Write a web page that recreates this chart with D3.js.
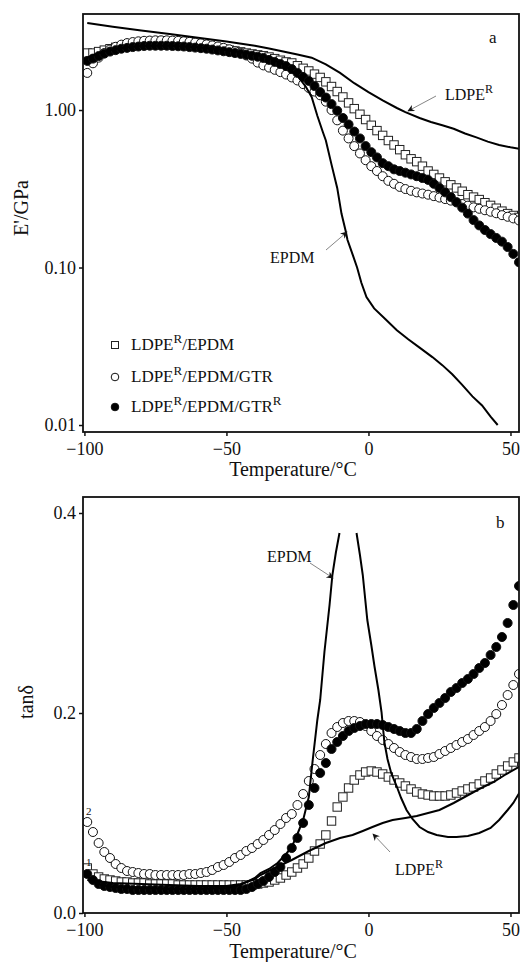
<!DOCTYPE html>
<html>
<head>
<meta charset="utf-8">
<script src="https://cdnjs.cloudflare.com/ajax/libs/d3/7.8.5/d3.min.js"></script>
<style>
  body { margin: 0; background: #fff; }
  text { font-family: "Liberation Serif", "Times New Roman", serif; fill: #111; }
</style>
</head>
<body>
<div id="chart"></div>
<script>
// temperature of every marker (°C), shared by the six marker series
const temps = [-99, -97, -95, -93, -91, -89, -87, -85, -83, -81,
  -79, -77, -75, -73, -71, -69, -67, -65, -63, -61,
  -59, -57, -55, -53, -51, -49, -47, -45, -43, -41,
  -39, -37, -35, -33, -31, -29, -27, -25, -23, -21,
  -19, -17, -15, -13, -11, -9, -7, -5, -3, -1,
  1, 3, 5, 7, 9, 11, 13, 15, 17, 19,
  21, 23, 25, 27, 29, 31, 33, 35, 37, 39,
  41, 43, 45, 47, 49, 51, 53];

// panel a : E' (GPa)
const modSq = [2.30, 2.30, 2.35, 2.40, 2.45, 2.50, 2.53, 2.56, 2.58, 2.60,
  2.61, 2.62, 2.62, 2.62, 2.62, 2.61, 2.60, 2.59, 2.58, 2.56,
  2.54, 2.52, 2.49, 2.46, 2.43, 2.40, 2.37, 2.34, 2.30, 2.27,
  2.24, 2.21, 2.17, 2.12, 2.07, 2.02, 1.99, 1.91, 1.84, 1.77,
  1.69, 1.61, 1.51, 1.41, 1.31, 1.21, 1.11, 1.02, 0.94, 0.87,
  0.80, 0.74, 0.69, 0.64, 0.60, 0.56, 0.52, 0.49, 0.47, 0.44,
  0.41, 0.39, 0.37, 0.35, 0.335, 0.32, 0.305, 0.29, 0.28, 0.27,
  0.258, 0.248, 0.238, 0.228, 0.22, 0.214, 0.208];
const modCi = [1.72, 1.98, 2.15, 2.30, 2.42, 2.52, 2.60, 2.66, 2.70, 2.73,
  2.75, 2.76, 2.77, 2.77, 2.77, 2.76, 2.75, 2.73, 2.71, 2.68,
  2.65, 2.61, 2.57, 2.53, 2.48, 2.43, 2.36, 2.30, 2.22, 2.12,
  2.00, 1.92, 1.86, 1.80, 1.74, 1.68, 1.61, 1.54, 1.46, 1.38,
  1.31, 1.24, 1.13, 1.00, 0.86, 0.74, 0.66, 0.59, 0.53, 0.48,
  0.44, 0.41, 0.38, 0.355, 0.34, 0.325, 0.315, 0.307, 0.30, 0.295,
  0.29, 0.284, 0.278, 0.272, 0.266, 0.259, 0.253, 0.247, 0.241, 0.236,
  0.231, 0.226, 0.221, 0.215, 0.21, 0.205, 0.199];
const modFi = [2.05, 2.12, 2.20, 2.28, 2.35, 2.40, 2.45, 2.48, 2.51, 2.53,
  2.55, 2.56, 2.56, 2.56, 2.56, 2.55, 2.54, 2.53, 2.51, 2.49,
  2.47, 2.45, 2.42, 2.39, 2.36, 2.33, 2.30, 2.27, 2.24, 2.21,
  2.18, 2.14, 2.08, 2.02, 1.96, 1.90, 1.82, 1.72, 1.62, 1.53,
  1.42, 1.30, 1.20, 1.09, 0.99, 0.89, 0.81, 0.73, 0.66, 0.59,
  0.54, 0.50, 0.46, 0.44, 0.42, 0.41, 0.40, 0.39, 0.38, 0.37,
  0.36, 0.34, 0.32, 0.30, 0.28, 0.26, 0.24, 0.22, 0.20, 0.185,
  0.173, 0.163, 0.154, 0.146, 0.135, 0.122, 0.108];
const ldpeModT = [-99, -90, -80, -70, -60, -50, -40, -35, -30, -25, -20, -15, -10, -5,
  0, 5, 10, 13, 18, 22, 26, 30, 34, 38, 42, 46, 50, 53.5];
const ldpeModV = [3.57, 3.38, 3.20, 3.04, 2.88, 2.72, 2.56, 2.46, 2.35, 2.25, 2.15, 1.95, 1.72, 1.48,
  1.30, 1.15, 1.03, 0.97, 0.89, 0.84, 0.80, 0.76, 0.71, 0.67, 0.63, 0.60, 0.58, 0.565];
const epdmModT = [-99, -95, -90, -85, -80, -75, -70, -60, -50, -40, -35, -30, -25, -22, -20,
  -18, -16, -15, -13, -11, -9.5, -8, -7.4, -5.5, -4, -2.5, -0.7, 2, 6, 10,
  14, 18, 22.5, 26, 29.5, 33, 36.6, 40, 43, 45.5];
const epdmModV = [2.15, 2.30, 2.42, 2.50, 2.55, 2.56, 2.56, 2.50, 2.40, 2.25, 2.15, 1.95, 1.65, 1.40, 1.21,
  0.92, 0.72, 0.64, 0.45, 0.32, 0.22, 0.17, 0.15, 0.12, 0.10, 0.08, 0.065, 0.055, 0.047, 0.040,
  0.035, 0.031, 0.027, 0.024, 0.021, 0.018, 0.0152, 0.0133, 0.0113, 0.0100];

// panel b : tan delta
const tanSq = [0.045, 0.039, 0.036, 0.034, 0.033, 0.032, 0.031, 0.031, 0.030, 0.030,
  0.030, 0.029, 0.029, 0.029, 0.029, 0.029, 0.028, 0.028, 0.028, 0.028,
  0.028, 0.028, 0.028, 0.028, 0.028, 0.028, 0.028, 0.028, 0.028, 0.028,
  0.029, 0.030, 0.031, 0.033, 0.035, 0.038, 0.041, 0.045, 0.049, 0.055,
  0.062, 0.069, 0.078, 0.092, 0.106, 0.116, 0.125, 0.133, 0.138, 0.141,
  0.142, 0.141, 0.139, 0.136, 0.133, 0.130, 0.127, 0.124, 0.121, 0.119,
  0.118, 0.117, 0.117, 0.117, 0.118, 0.120, 0.122, 0.124, 0.126, 0.129,
  0.132, 0.135, 0.139, 0.143, 0.147, 0.151, 0.155];
const tanCi = [0.091, 0.081, 0.070, 0.061, 0.055, 0.049, 0.045, 0.042, 0.041, 0.040,
  0.039, 0.039, 0.038, 0.038, 0.038, 0.038, 0.038, 0.038, 0.039, 0.039,
  0.040, 0.041, 0.043, 0.046, 0.048, 0.051, 0.055, 0.058, 0.062, 0.065,
  0.069, 0.073, 0.078, 0.083, 0.089, 0.095, 0.099, 0.108, 0.119, 0.132,
  0.144, 0.158, 0.169, 0.180, 0.186, 0.190, 0.192, 0.192, 0.191, 0.187,
  0.182, 0.177, 0.173, 0.169, 0.165, 0.161, 0.158, 0.156, 0.154, 0.154,
  0.155, 0.156, 0.159, 0.162, 0.165, 0.168, 0.171, 0.174, 0.178, 0.182,
  0.186, 0.192, 0.199, 0.208, 0.218, 0.228, 0.239];
const tanFi = [0.039, 0.033, 0.029, 0.027, 0.026, 0.025, 0.024, 0.024, 0.023, 0.023,
  0.023, 0.023, 0.023, 0.023, 0.023, 0.023, 0.023, 0.023, 0.023, 0.023,
  0.023, 0.023, 0.023, 0.023, 0.023, 0.023, 0.023, 0.023, 0.024, 0.026,
  0.029, 0.032, 0.036, 0.041, 0.046, 0.055, 0.065, 0.075, 0.090, 0.108,
  0.125, 0.140, 0.150, 0.164, 0.171, 0.177, 0.182, 0.185, 0.187, 0.189,
  0.189, 0.189, 0.188, 0.186, 0.184, 0.182, 0.180, 0.180, 0.184, 0.192,
  0.199, 0.205, 0.210, 0.215, 0.221, 0.225, 0.230, 0.234, 0.239, 0.245,
  0.250, 0.258, 0.266, 0.276, 0.290, 0.308, 0.327];
const ldpeTanT = [-99, -90, -80, -70, -60, -50, -45, -40, -38, -33, -27, -21, -15, -10, -5.6,
  -2, 1.4, 5, 8.5, 13, 17, 21, 25, 30, 34.5, 39, 44, 48, 53.5];
const ldpeTanV = [0.033, 0.030, 0.029, 0.028, 0.027, 0.027, 0.029, 0.034, 0.038, 0.045, 0.053, 0.062, 0.070, 0.075, 0.078,
  0.082, 0.086, 0.090, 0.093, 0.095, 0.097, 0.100, 0.103, 0.110, 0.117, 0.124, 0.131, 0.138, 0.147];
// the EPDM peak runs off the drawing, so there is a gap at the top (null)
const epdmTanT = [-99, -97, -94, -90, -80, -70, -60, -50, -45, -40,
  -38, -35, -32, -29, -27, -25, -23, -21, -19.7, -18,
  -17, -15.5, -13.7, -12.7, -11.5, -10.2, -7.2, -4.2, -3, -2,
  -0.4, 1, 2.1, 3.5, 4.6, 5.6, 6.7, 8, 9.9, 11.5,
  13.4, 15.5, 18, 21, 24, 28, 31, 35, 39, 43,
  46, 49, 51, 53.5];
const epdmTanV = [0.037, 0.031, 0.028, 0.026, 0.025, 0.024, 0.024, 0.025, 0.028, 0.035,
  0.040, 0.044, 0.050, 0.059, 0.066, 0.079, 0.093, 0.116, 0.151, 0.193,
  0.213, 0.261, 0.308, 0.338, 0.360, 0.380, null, 0.380, 0.358, 0.338,
  0.293, 0.268, 0.247, 0.223, 0.201, 0.171, 0.154, 0.140, 0.127, 0.115,
  0.103, 0.094, 0.086, 0.081, 0.078, 0.076, 0.076, 0.077, 0.080, 0.085,
  0.093, 0.103, 0.110, 0.122];

const xTicks = [-100, -50, 0, 50];
const modTicks = [0.01, 0.1, 1];
const tanTicks = [0, 0.2, 0.4];
const legendNames = [['LDPE', 'R', '/EPDM', ''], ['LDPE', 'R', '/EPDM/GTR', ''], ['LDPE', 'R', '/EPDM/GTR', 'R']];

const svg = d3.select('#chart')
  .append('svg')
  .attr('width', 520)
  .attr('height', 962);

// arrow head for the curve labels
svg.append('defs').append('marker')
  .attr('id', 'head')
  .attr('viewBox', '0 0 10 10')
  .attr('refX', 9).attr('refY', 5)
  .attr('markerWidth', 9).attr('markerHeight', 7)
  .attr('markerUnits', 'userSpaceOnUse')
  .attr('orient', 'auto')
  .append('path')
  .attr('d', 'M0,0 L10,5 L0,10 L3,5 Z')
  .attr('fill', '#111');

const x = d3.scaleLinear().domain([-100.5, 53]).range([83, 519]);
const yMod = d3.scaleLog().domain([0.00903, 4.07]).range([432, 14]);
const yTan = d3.scaleLinear().domain([0, 0.416]).range([913, 497]);

const minus = d => d < 0 ? '\u2212' + Math.abs(d) : d;

function panel(id, y, yFormat, yTickVals) {
  const [y0, y1] = y.range();
  svg.append('clipPath').attr('id', 'clip' + id)
    .append('rect')
    .attr('x', 83).attr('y', y1)
    .attr('width', 436).attr('height', y0 - y1);

  const g = svg.append('g');
  const plot = g.append('g').attr('clip-path', `url(#clip${id})`);

  const xAxis = g.append('g')
    .attr('transform', `translate(0, ${y0})`)
    .call(d3.axisBottom(x).tickValues(xTicks).tickSize(4).tickPadding(6).tickFormat(minus));
  const yAxis = g.append('g')
    .attr('transform', 'translate(83, 0)')
    .call(d3.axisLeft(y).tickValues(yTickVals).tickSize(4).tickPadding(3).tickFormat(yFormat));
  [xAxis, yAxis].forEach(a => {
    a.attr('font-family', null).attr('font-size', null);
    a.select('.domain').remove();
    a.selectAll('line').attr('stroke', '#111').attr('stroke-width', 1.5);
    a.selectAll('text').style('font-size', '18px');
  });

  g.append('rect')
    .attr('x', 83).attr('y', y1)
    .attr('width', 436).attr('height', y0 - y1)
    .attr('fill', 'none')
    .attr('stroke', '#111')
    .attr('stroke-width', 1.8);
  return plot;
}

function markers(plot, y, vals, kind) {
  const pts = d3.zip(temps, vals);
  if (kind === 'sq') {
    plot.append('g').selectAll('rect')
      .data(pts).enter().append('rect')
      .attr('x', d => x(d[0]) - 4.2)
      .attr('y', d => y(d[1]) - 4.2)
      .attr('width', 8.4).attr('height', 8.4)
      .attr('fill', '#fff').attr('stroke', '#222').attr('stroke-width', 1);
  } else {
    plot.append('g').selectAll('circle')
      .data(pts).enter().append('circle')
      .attr('cx', d => x(d[0]))
      .attr('cy', d => y(d[1]))
      .attr('r', 4.5)
      .attr('fill', kind === 'fi' ? '#000' : '#fff')
      .attr('stroke', '#111').attr('stroke-width', 1);
  }
}

function curve(plot, y, ts, vs) {
  const line = d3.line()
    .defined(d => d[1] != null)
    .x(d => x(d[0]))
    .y(d => y(d[1]));
  plot.append('path')
    .attr('d', line(d3.zip(ts, vs)))
    .attr('fill', 'none')
    .attr('stroke', '#000')
    .attr('stroke-width', 2);
}

function label(px, py, main, sup, size) {
  const t = svg.append('text').attr('x', px).attr('y', py).style('font-size', size + 'px');
  t.append('tspan').text(main);
  if (sup) t.append('tspan').attr('dy', -7).style('font-size', (size - 4) + 'px').text(sup);
  return t;
}

function arrow(xa, ya, xb, yb) {
  svg.append('line')
    .attr('x1', xa).attr('y1', ya).attr('x2', xb).attr('y2', yb)
    .attr('stroke', '#777').attr('stroke-width', 0.9)
    .attr('marker-end', 'url(#head)');
}

// ---- panel a
const plotA = panel('a', yMod, d3.format('.2f'), modTicks);
markers(plotA, yMod, modSq, 'sq');
markers(plotA, yMod, modCi, 'ci');
markers(plotA, yMod, modFi, 'fi');
curve(plotA, yMod, ldpeModT, ldpeModV);
curve(plotA, yMod, epdmModT, epdmModV);

label(489, 43, 'a', null, 17);
label(445, 100, 'LDPE', 'R', 16);
arrow(436, 96, 408, 111);
label(270, 263, 'EPDM', null, 16);
arrow(326, 250, 347, 232);

// legend
const legendY = [345, 377, 407];
legendNames.forEach((n, i) => {
  const cy = legendY[i];
  if (i === 0) {
    svg.append('rect').attr('x', 111.5).attr('y', cy - 3.5).attr('width', 7).attr('height', 7)
      .attr('fill', '#fff').attr('stroke', '#222').attr('stroke-width', 1);
  } else {
    svg.append('circle').attr('cx', 115).attr('cy', cy).attr('r', 3.8)
      .attr('fill', i === 2 ? '#000' : '#fff').attr('stroke', '#111').attr('stroke-width', 1);
  }
  const t = svg.append('text').attr('x', 131).attr('y', cy + 5).style('font-size', '17px');
  t.append('tspan').text(n[0]);
  t.append('tspan').attr('dy', -7).style('font-size', '13px').text(n[1]);
  t.append('tspan').attr('dy', 7).text(n[2]);
  if (n[3]) t.append('tspan').attr('dy', -7).style('font-size', '13px').text(n[3]);
});

svg.append('text')
  .attr('x', 293).attr('y', 476)
  .attr('text-anchor', 'middle')
  .style('font-size', '20px')
  .text('Temperature/°C');
svg.append('text')
  .attr('transform', 'translate(28, 208) rotate(-90)')
  .attr('text-anchor', 'middle')
  .style('font-size', '20px')
  .text("E'/GPa");

// ---- panel b
const plotB = panel('b', yTan, d3.format('.1f'), tanTicks);
markers(plotB, yTan, tanSq, 'sq');
markers(plotB, yTan, tanCi, 'ci');
markers(plotB, yTan, tanFi, 'fi');
curve(plotB, yTan, ldpeTanT, ldpeTanV);
curve(plotB, yTan, epdmTanT, epdmTanV);

label(496, 528, 'b', null, 17);
label(267, 562, 'EPDM', null, 16);
arrow(310, 563, 333, 578);
label(395, 875, 'LDPE', 'R', 16);
arrow(390, 852, 373, 834);
// stray digits at the left edge of the original plot
svg.append('text').attr('x', 86).attr('y', 815).style('font-size', '11px').text('2');
svg.append('text').attr('x', 86).attr('y', 866).style('font-size', '11px').text('1');

svg.append('text')
  .attr('x', 293).attr('y', 958)
  .attr('text-anchor', 'middle')
  .style('font-size', '20px')
  .text('Temperature/°C');
svg.append('text')
  .attr('transform', 'translate(33, 702) rotate(-90)')
  .attr('text-anchor', 'middle')
  .style('font-size', '20px')
  .text('tanδ');
</script>
</body>
</html>
